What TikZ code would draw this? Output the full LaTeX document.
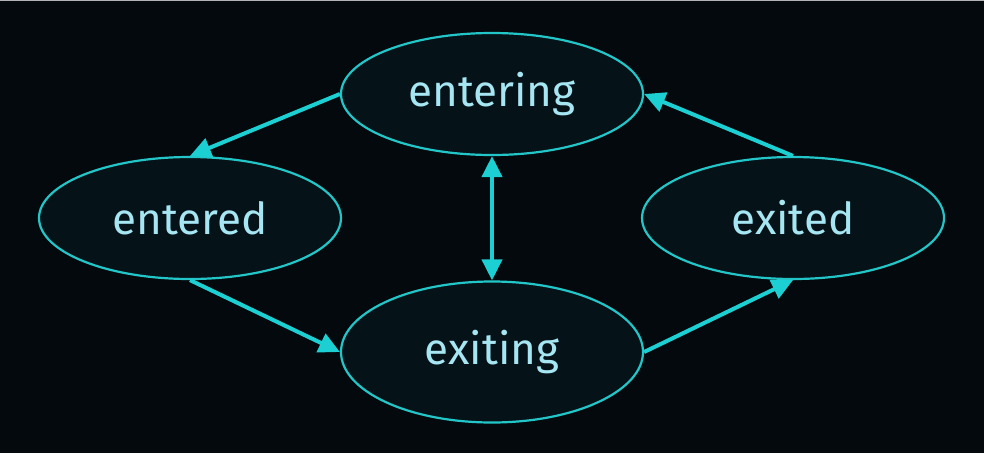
\documentclass[tikz,border=0pt]{standalone}
\usepackage{fontspec}
\setmainfont{Fira Sans}
\usepackage{tikz}
\usetikzlibrary{positioning, arrows.meta, shapes, shapes.geometric}
\definecolor{bgdark}{HTML}{03090C}
\definecolor{stfill}{HTML}{051218}
\definecolor{stline}{HTML}{22C6C8}
\definecolor{arrcyan}{HTML}{1CCFD2}
\definecolor{sttext}{HTML}{A6E6F2}
\tikzset{stnode/.style={ellipse, draw=stline, line width=2.2pt, fill=stfill, inner sep=0pt, minimum width=302pt, minimum height=122pt, text=sttext, font=\fontsize{44}{54}\selectfont}}
\tikzset{arr/.style={draw=arrcyan, line width=4pt, -{Triangle[length=21pt, width=20pt]}}}
\tikzset{arr2/.style={arr, {Triangle[length=21pt, width=20pt]}-{Triangle[length=21pt, width=20pt]}}}

\begin{document}
\begin{tikzpicture}[x=1pt, y=-1pt]
			\fill[bgdark] (0,0) rectangle (984,453);
			\useasboundingbox (0,0) rectangle (984,453);
			\draw[gray!60, line width=1pt] (0,0.5) -- (984,0.5);
			%
			\node[stnode] (entering) at (492,94) {entering};
			\node[stnode] (entered) at (190,218) {entered};
			\node[stnode] (exited) at (793,218) {exited};
			\node[stnode, minimum height=141pt] (exiting) at (492,352) {exiting};
			%
			\draw[arr] (entering.west) -- (entered.north);
			\draw[arr] (entered.south) -- (exiting.west);
			\draw[arr] (exiting.east) -- (exited.south);
			\draw[arr] (exited.north) -- (entering.east);
			\draw[arr2] (entering.south) -- (exiting.north);
		\end{tikzpicture}
\end{document}
